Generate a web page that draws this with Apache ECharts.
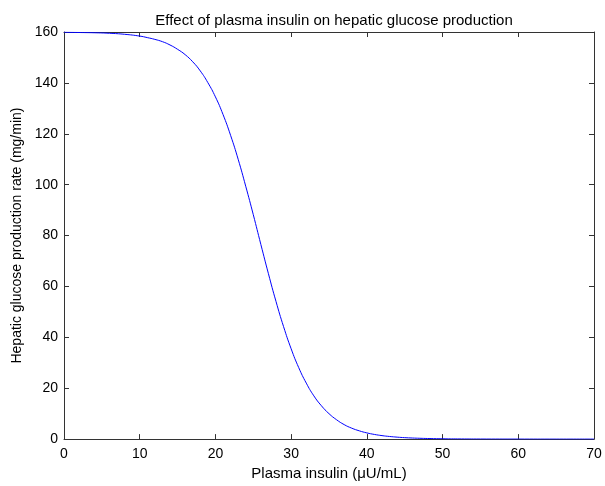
<!DOCTYPE html>
<html>
<head>
<meta charset="utf-8">
<script src="https://cdn.jsdelivr.net/npm/echarts@6/dist/echarts.min.js"></script>
<style>html,body{margin:0;padding:0;background:#fff;}#c{width:605px;height:486px;}</style>
</head>
<body>
<div id="c"></div>
<script>
// Plasma insulin (µU/mL)
var insulin = [0,2,4,6,8,10,11,12,13,14,15,16,17,18,19,20,21,22,23,24,25,26,27,28,29,30,31,32,33,34,35,36,37,38,39,40,41,42,43,44,45,46,47,48,50,52,55,60,65,70];
// Hepatic glucose production rate (mg/min)
var production = [159.9,159.8,159.7,159.5,159.1,158.4,157.8,157.1,156.2,154.9,153.2,151.1,148.3,144.7,140.1,134.5,127.6,119.4,110.0,99.4,88.2,76.5,65.0,54.1,44.2,35.5,28.1,22.0,17.0,13.1,10.0,7.6,5.7,4.3,3.25,2.44,1.83,1.37,1.03,0.77,0.57,0.43,0.32,0.24,0.13,0.07,0.03,0.01,0.0,0.0];
var xTicks = [0,10,20,30,40,50,60,70];
var yTicks = [0,20,40,60,80,100,120,140,160];

var pts = insulin.map(function(x,i){return [x, production[i]];});
var font = 'Liberation Sans, Arial, sans-serif';
var axisCol = '#333';
var xMin = xTicks[0], xMax = xTicks[xTicks.length-1];
var yMin = yTicks[0], yMax = yTicks[yTicks.length-1];
var chart = echarts.init(document.getElementById('c'), null, {renderer:'canvas'});
chart.setOption({
  animation:false,
  backgroundColor:'#fff',
  title:{text:'Effect of plasma insulin on hepatic glucose production', left:329, top:8, textAlign:'center',
    textStyle:{fontFamily:font, fontSize:15, fontWeight:'normal', color:'#000'}},
  grid:{left:64, right:11, top:32, bottom:45},
  xAxis:[{type:'value', min:xMin, max:xMax, interval:10,
      name:'Plasma insulin (\u03bcU/mL)', nameLocation:'middle', nameGap:25,
      nameTextStyle:{fontFamily:font, fontSize:15, color:'#000'},
      axisLine:{onZero:false, lineStyle:{color:axisCol, width:1}},
      axisTick:{inside:true, length:5, lineStyle:{color:axisCol}},
      axisLabel:{fontFamily:font, fontSize:14, color:'#000', margin:8},
      splitLine:{show:false}},
    {type:'value', position:'top', min:xMin, max:xMax, interval:10,
      axisLine:{show:true, onZero:false, lineStyle:{color:axisCol, width:1}},
      axisTick:{inside:true, length:5, lineStyle:{color:axisCol}},
      axisLabel:{show:false}, splitLine:{show:false}}],
  yAxis:[{type:'value', min:yMin, max:yMax, interval:20,
      name:'Hepatic glucose production rate (mg/min)', nameLocation:'middle', nameGap:28,
      nameTextStyle:{fontFamily:font, fontSize:14, color:'#000'},
      axisLine:{show:true, onZero:false, lineStyle:{color:axisCol, width:1}},
      axisTick:{show:true, inside:true, length:5, lineStyle:{color:axisCol}},
      axisLabel:{fontFamily:font, fontSize:14, color:'#000', margin:6},
      splitLine:{show:false}},
    {type:'value', position:'right', min:yMin, max:yMax, interval:20,
      axisLine:{show:true, onZero:false, lineStyle:{color:axisCol, width:1}},
      axisTick:{show:true, inside:true, length:5, lineStyle:{color:axisCol}},
      axisLabel:{show:false}, splitLine:{show:false}}],
  series:[{type:'line', data:pts, smooth:true, showSymbol:false, symbol:'none',
    lineStyle:{color:'#0000ff', width:1}, xAxisIndex:0, yAxisIndex:0}]
});
</script>
</body>
</html>
